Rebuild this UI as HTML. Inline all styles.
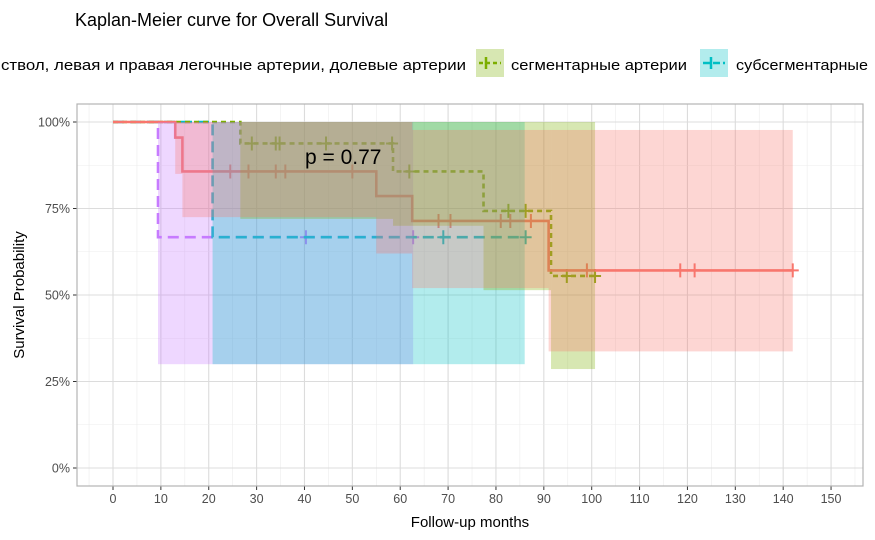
<!DOCTYPE html>
<html><head><meta charset="utf-8"><style>
body{margin:0;background:#fff;}
svg{display:block;font-family:"Liberation Sans",Arial,sans-serif;}
</style></head><body>
<svg id="chart" width="875" height="540" viewBox="0 0 875 540">
<text x="75" y="26" font-size="18" fill="#000">Kaplan-Meier curve for Overall Survival</text>
<g>
<text x="1" y="70" font-size="15" textLength="465" lengthAdjust="spacingAndGlyphs" fill="#000">ствол, левая и правая легочные артерии, долевые артерии</text>
<rect x="476" y="49" width="28" height="28" fill="#7CAE00" fill-opacity="0.3"/>
<line x1="479" y1="63" x2="501" y2="63" stroke="#7CAE00" stroke-width="2.5" stroke-dasharray="4,3"/>
<line x1="486" y1="57" x2="486" y2="69" stroke="#7CAE00" stroke-width="2.5"/>
<text x="511" y="70" font-size="15" textLength="176" lengthAdjust="spacingAndGlyphs" fill="#000">сегментарные артерии</text>
<rect x="700" y="49" width="28" height="28" fill="#00BFC4" fill-opacity="0.3"/>
<line x1="703" y1="63" x2="725" y2="63" stroke="#00BFC4" stroke-width="2.5" stroke-dasharray="7,3"/>
<line x1="711" y1="57" x2="711" y2="69" stroke="#00BFC4" stroke-width="2.5"/>
<text x="736" y="70" font-size="15" textLength="132" lengthAdjust="spacingAndGlyphs" fill="#000">субсегментарные</text>
</g>
<g id="grid"></g><g id="curves"></g><g id="bands"></g><g id="axes"></g>
<rect x="77" y="104" width="786" height="382" fill="none" stroke="#b3b3b3" stroke-width="1.2"/>
<text x="305" y="164" font-size="21" fill="#000">p = 0.77</text>
<text x="470" y="527" font-size="15" text-anchor="middle" fill="#000">Follow-up months</text>
<text transform="translate(24,295) rotate(-90)" font-size="15" text-anchor="middle" fill="#000">Survival Probability</text>
</svg>
<script>
const xTicks=[0,10,20,30,40,50,60,70,80,90,100,110,120,130,140,150];
const yTicks=[0,0.25,0.5,0.75,1];
const yTickLabels=["0%","25%","50%","75%","100%"];
// step curves: times and survival
const redTimes=[0,13,14.5,55,62.5,91,142];
const redSurv=[1,0.955,0.857,0.786,0.714,0.571,0.571];
const redCens=[24.5,28.3,34,36,50,68,70.5,81,83,87.3,99,118.5,121.5,142];
const greenTimes=[0,26.6,58.5,77.4,91.5,100.7];
const greenSurv=[1,0.938,0.857,0.743,0.555,0.555];
const greenCens=[29,34,34.8,44.5,58.3,61.9,82.6,86.2,94.8,100.7];
const cyanTimes=[0,20.8,86];
const cyanSurv=[1,0.667,0.667];
const cyanCens=[69,86.2];
const purpleTimes=[0,9.4,62.7];
const purpleSurv=[1,0.667,0.667];
const purpleCens=[40.3,62.7];
// confidence bands: [start, end, lower, upper]
const redBand=[[13,14.5,0.85,1],[14.5,55,0.725,1],[55,62.5,0.62,1],[62.5,91,0.52,0.977],[91,142,0.337,0.977]];
const greenBand=[[26.6,58.5,0.72,1],[58.5,77.4,0.70,1],[77.4,91.5,0.514,1],[91.5,100.7,0.286,1]];
const cyanBand=[[20.8,86,0.30,1]];
const purpleBand=[[9.4,62.7,0.30,1]];

const X=t=>113+t*4.787, Y=s=>468-s*346;
const NS="http://www.w3.org/2000/svg";
function mk(tag,parent,attrs){const e=document.createElementNS(NS,tag);for(const k in attrs)e.setAttribute(k,attrs[k]);document.getElementById(parent).appendChild(e);return e;}
for(let t=-5;t<=155;t+=5){const x=X(t);if(x<77||x>863)continue;const major=t%10===0;
 const l=mk('line','grid',{x1:x,x2:x,y1:104,y2:486,stroke:major?'#dcdcdc':'#ececec','stroke-width':major?1.1:0.6});
 }
for(let s=-0.125;s<=1.05;s+=0.125){const y=Y(s);if(y<104||y>486)continue;const major=Math.abs(s*4-Math.round(s*4))<1e-6;
 const l=mk('line','grid',{x1:77,x2:863,y1:y,y2:y,stroke:major?'#dcdcdc':'#ececec','stroke-width':major?1.1:0.6});
 }
xTicks.forEach(t=>{const x=X(t);
 const l=mk('line','axes',{x1:x,x2:x,y1:486,y2:490,stroke:'#333','stroke-width':1});
 
 const tx=mk('text','axes',{x:x,y:503,'font-size':12.5,'text-anchor':'middle',fill:'#4d4d4d'});tx.textContent=t;
 });
yTicks.forEach((s,i)=>{const y=Y(s);
 const l=mk('line','axes',{x1:73,x2:77,y1:y,y2:y,stroke:'#333','stroke-width':1});
 
 const tx=mk('text','axes',{x:70,y:y+4.5,'font-size':12.5,'text-anchor':'end',fill:'#4d4d4d'});tx.textContent=yTickLabels[i];
 });
function bands(arr,color,name){arr.forEach(b=>{const r=mk('rect','bands',{x:X(b[0]),y:Y(b[3]),width:X(b[1])-X(b[0]),height:Y(b[2])-Y(b[3]),fill:color,'fill-opacity':0.3});
 });}
bands(purpleBand,'#C77CFF','ci-band-purple');
bands(cyanBand,'#00BFC4','ci-band-cyan');
bands(greenBand,'#7CAE00','ci-band-green');
bands(redBand,'#F8766D','ci-band-red');
function curve(times,surv,cens,color,dash,name){
 let d='M'+X(times[0])+','+Y(surv[0]);
 for(let i=1;i<times.length;i++){d+=' H'+X(times[i])+' V'+Y(surv[i]);}
 const p=mk('path','curves',{d:d,fill:'none',stroke:color,'stroke-width':2.6,'stroke-dasharray':dash});
 
 cens.forEach(c=>{let s=surv[0];for(let i=0;i<times.length;i++){if(times[i]<=c)s=surv[i];}
  const x=X(c),y=Y(s);
  const m=mk('path','curves',{d:`M${x-6},${y} H${x+6} M${x},${y-7} V${y+7}`,stroke:color,'stroke-width':2});
  });}
curve(purpleTimes,purpleSurv,purpleCens,'#C77CFF','11,6','curve-purple');
curve(cyanTimes,cyanSurv,cyanCens,'#00BFC4','11,6','curve-cyan');
curve(greenTimes,greenSurv,greenCens,'#7CAE00','5,4','curve-green');
curve(redTimes,redSurv,redCens,'#F8766D','none','curve-red');
</script>
</body></html>
